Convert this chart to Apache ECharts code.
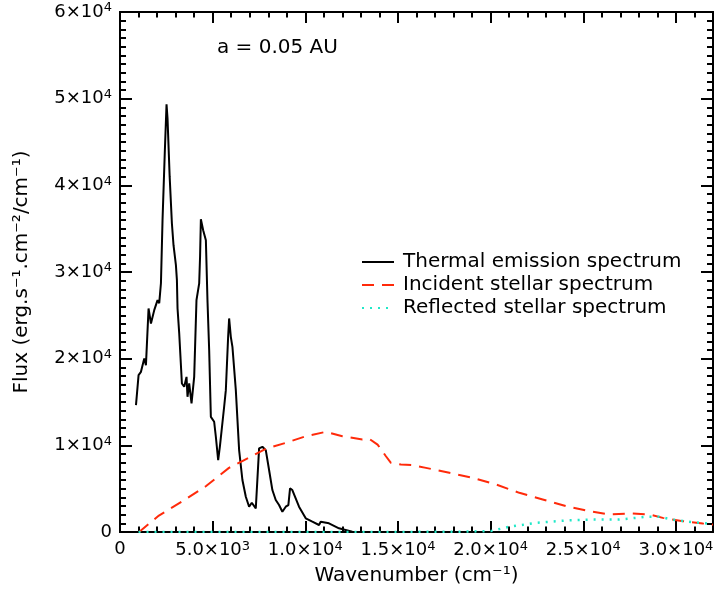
<!DOCTYPE html>
<html>
<head>
<meta charset="utf-8">
<script src="https://cdn.jsdelivr.net/npm/echarts@6/dist/echarts.min.js"></script>
<style>
  html, body { margin: 0; padding: 0; background: #fff; }
  #main { width: 720px; height: 599px; }
</style>
</head>
<body>
<div id="main"></div>
<script>
// values: [wavenumber (cm-1), flux]
var thermal = [
  [862, 14640], [1002, 18100], [1131, 18480], [1309, 20030], [1400, 19250],
  [1541, 25790], [1670, 24060], [1848, 25600], [2026, 26750], [2117, 26400],
  [2209, 28700], [2295, 35970], [2420, 44000], [2511, 49350], [2565, 47700],
  [2680, 41000], [2801, 35600], [2888, 33090], [3017, 30790], [3071, 29060],
  [3105, 25790], [3195, 22940], [3340, 17140], [3465, 16760], [3590, 17900],
  [3643, 15600], [3734, 17140], [3860, 14840], [4003, 17900], [4127, 26750],
  [4273, 28680], [4320, 31740], [4364, 36090], [4488, 34820], [4634, 33670],
  [4720, 26750], [4812, 20980], [4903, 13290], [5081, 12720], [5172, 10990],
  [5297, 8300], [5388, 9830], [5495, 9830], [5620, 14450], [5711, 16370],
  [5835, 22520], [5889, 24640], [5980, 22520], [6067, 21370], [6250, 16370],
  [6428, 9450], [6606, 6000], [6789, 4070], [6967, 2920], [7112, 3380],
  [7328, 2730], [7506, 9650], [7684, 9830], [7867, 9450], [8045, 7150],
  [8223, 4840], [8405, 3690], [8583, 3110], [8761, 2340], [8944, 2920],
  [9085, 3110], [9176, 5040], [9300, 4840], [9661, 2920], [10022, 1580],
  [10380, 1190], [10739, 810], [10830, 1190], [11277, 1000], [11816, 430],
  [12533, 30], [14000, 0]
];

var incident = [
  [1030, 0], [2100, 1900], [3370, 3550], [4630, 5280], [5880, 7400],
  [6600, 8170], [7870, 9600], [8950, 10290], [10030, 11050], [11110, 11560],
  [12000, 11050], [13080, 10670], [13450, 10750], [13900, 10090], [14350, 8740],
  [14620, 7980], [15160, 7790], [15790, 7710], [16510, 7400], [17770, 6830],
  [19030, 6250], [20290, 5480], [21550, 4520], [22810, 3750], [24070, 2980],
  [25330, 2400], [26410, 2020], [27670, 2130], [28570, 2020], [29290, 1630],
  [30370, 1250], [31450, 980], [32000, 850]
];

var reflected = [
  [1000, 0], [14000, 0], [18000, 30], [20000, 100], [21000, 600],
  [22450, 1060], [24070, 1330], [25500, 1440], [26950, 1440], [28390, 1750],
  [29100, 1750], [30000, 1360], [30900, 1130], [31900, 950], [32000, 940]
];

var seriesNames = ['Thermal emission spectrum', 'Incident stellar spectrum', 'Reflected stellar spectrum'];

// tick labels: value, mantissa, exponent
var xTickValues = [0, 5000, 10000, 15000, 20000, 25000, 30000];
var xTickMant = ['0', '5.0×10', '1.0×10', '1.5×10', '2.0×10', '2.5×10', '3.0×10'];
var xTickExp = ['', '3', '4', '4', '4', '4', '4'];
var yTickValues = [0, 10000, 20000, 30000, 40000, 50000, 60000];
var yTickMant = ['0', '1×10', '2×10', '3×10', '4×10', '5×10', '6×10'];
var yTickExp = ['', '4', '4', '4', '4', '4', '4'];

var FONT = 'DejaVu Sans';

function tickText(values, mant, exp) {
  return function (v) {
    var i = values.indexOf(v);
    if (i < 0) return '';
    if (!exp[i]) return '{m|' + mant[i] + '}';
    return '{m|' + mant[i] + '}{e|' + exp[i] + '}';
  };
}

var richTick = {
  m: { fontSize: 18, fontFamily: FONT, color: '#000' },
  e: { fontSize: 13, fontFamily: FONT, color: '#000', padding: [0, 0, 8, 0] }
};

var lineStyleAxis = { color: '#000', width: 2 };

function xAx(pos, step, tickLen, withLabels) {
  return {
    type: 'value', position: pos, min: 0, max: 32000, interval: step,
    axisLine: { show: true, onZero: false, lineStyle: lineStyleAxis },
    axisTick: { show: true, inside: true, length: tickLen, lineStyle: { color: '#000', width: 2 } },
    axisLabel: withLabels ? {
      show: true, margin: 8, customValues: xTickValues, fontSize: 18, fontFamily: FONT, color: '#000',
      formatter: tickText(xTickValues, xTickMant, xTickExp), rich: richTick
    } : { show: false },
    splitLine: { show: false },
    name: withLabels ? 'Wavenumber (cm⁻¹)' : '',
    nameLocation: 'middle', nameGap: 34,
    nameTextStyle: { fontSize: 20, fontFamily: FONT, color: '#000' }
  };
}

function yAx(pos, withLabels) {
  return {
    type: 'value', position: pos, min: 0, max: 60000, interval: 10000,
    axisLine: { show: true, onZero: false, lineStyle: lineStyleAxis },
    axisTick: { show: true, inside: true, length: 12, lineStyle: { color: '#000', width: 2 } },
    minorTick: { show: true, splitNumber: 10, length: 6, lineStyle: { color: '#000', width: 2 } },
    axisLabel: withLabels ? {
      show: true, margin: 8, fontSize: 18, fontFamily: FONT, color: '#000',
      formatter: tickText(yTickValues, yTickMant, yTickExp), rich: richTick
    } : { show: false },
    splitLine: { show: false },
    minorSplitLine: { show: false },
    name: withLabels ? 'Flux (erg.s⁻¹.cm⁻²/cm⁻¹)' : '',
    nameLocation: 'middle', nameGap: 88,
    nameTextStyle: { fontSize: 20, fontFamily: FONT, color: '#000' }
  };
}

var legendItems = seriesNames.map(function (n) {
  return { name: n, itemStyle: { opacity: 0 } };
});

var myChart = echarts.init(document.getElementById('main'));
var option = {
  animation: false,
  backgroundColor: '#fff',
  grid: { left: 120, right: 7, top: 12, bottom: 67, containLabel: false },
  title: {
    text: 'a = 0.05 AU', left: 212, top: 33,
    textStyle: { fontSize: 20, fontWeight: 'normal', fontFamily: FONT, color: '#000' }
  },
  legend: {
    orient: 'vertical', left: 356, top: 247, itemWidth: 32, itemHeight: 12, itemGap: 3,
    formatter: function (n) { return '{t|' + n + '}'; },
    textStyle: {
      fontSize: 20, fontFamily: FONT, color: '#000',
      rich: { t: { fontSize: 20, fontFamily: FONT, color: '#000', padding: [0, 0, 0, 4] } }
    },
    data: legendItems
  },
  xAxis: [
    xAx('bottom', 1000, 5.5, true),
    xAx('bottom', 5000, 11, false),
    xAx('top', 1000, 5.5, false),
    xAx('top', 5000, 11, false)
  ],
  yAxis: [yAx('left', true), yAx('right', false)],
  series: [
    {
      name: seriesNames[0], type: 'line', data: thermal, symbol: 'none',
      lineStyle: { color: '#000', width: 2 }, itemStyle: { color: '#000' }
    },
    {
      name: seriesNames[1], type: 'line', data: incident, symbol: 'none',
      lineStyle: { color: '#ff2a0a', width: 2, type: [12, 8] }, itemStyle: { color: '#ff2a0a' }
    },
    {
      name: seriesNames[2], type: 'line', data: reflected, symbol: 'none',
      lineStyle: { color: '#20e8c8', width: 2.5, type: [2, 6] }, itemStyle: { color: '#20e8c8' }
    }
  ]
};

option && myChart.setOption(option);
</script>
</body>
</html>
